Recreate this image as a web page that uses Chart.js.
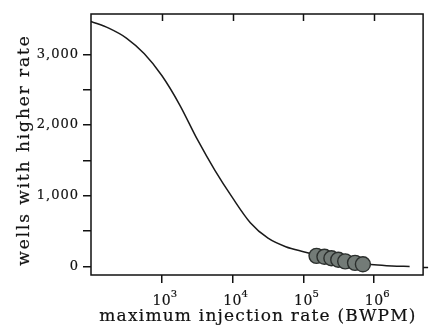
<!DOCTYPE html>
<html>
<head>
<meta charset="utf-8">
<script src="https://cdn.jsdelivr.net/npm/chart.js@4.4.1/dist/chart.umd.min.js"></script>
<style>
  html, body { margin: 0; padding: 0; background: #fff; }
  #wrap { width: 432px; height: 331px; }
</style>
</head>
<body>
<div id="wrap"><canvas id="injChart"></canvas></div>
<script>
// cumulative curve: wells with a max rate above x
var curveRate  = [100, 178, 316, 562, 1000, 1778, 3162, 5623, 10000, 17783, 31623, 56234, 100000, 177828, 316228, 562341, 1000000, 1778279, 3162278];
var curveWells = [3465, 3370, 3230, 3010, 2700, 2290, 1800, 1360, 970, 620, 400, 280, 210, 150, 100, 58, 25, 8, 0];

// highlighted wells (circles)
var wellRate  = [153109, 198153, 248313, 310456, 389045, 535797, 691831];
var wellCount = [151, 137, 116, 95, 73, 52, 31];

var xTicks = [1e3, 1e4, 1e5, 1e6];
var yTicks = [0, 500, 1000, 1500, 2000, 2500, 3000];

var xTitle = 'maximum injection rate (BWPM)';
var yTitle = 'wells with higher rate';

var serif = "'DejaVu Serif', serif";
var ink = '#111111';

function pts(xs, ys) {
  return xs.map(function(x, i) { return { x: x, y: ys[i] }; });
}

// text with a faint outline so it reads a bit heavier, like the scan
function heavyText(ctx, s, x, y) {
  ctx.lineWidth = 0.2;
  ctx.strokeText(s, x, y);
  ctx.fillText(s, x, y);
}

// frame box, inward ticks on top, all text labels
var framePlugin = {
  id: 'frame',
  afterDraw: function(chart) {
    var a = chart.chartArea, ctx = chart.ctx, xs = chart.scales.x, ys = chart.scales.y;
    ctx.save();
    ctx.strokeStyle = ink;
    ctx.lineWidth = 1.5;
    ctx.strokeRect(a.left, a.top, a.right - a.left, a.bottom - a.top);
    xTicks.forEach(function(v) {
      var px = Math.round(xs.getPixelForValue(v)) + 0.5;
      ctx.beginPath();
      ctx.moveTo(px, a.top);
      ctx.lineTo(px, a.top + 7);
      ctx.stroke();
    });
    var py = Math.round(ys.getPixelForValue(0)) + 0.5;
    ctx.beginPath();
    ctx.moveTo(a.right, py);
    ctx.lineTo(a.right + 5, py);
    ctx.stroke();

    ctx.fillStyle = ink;
    ctx.textBaseline = 'alphabetic';
    ctx.letterSpacing = '0.5px';
    xTicks.forEach(function(v) {
      var px = xs.getPixelForValue(v);
      ctx.font = '14px ' + serif;
      ctx.textAlign = 'center';
      heavyText(ctx, '10', px, a.bottom + 30);
      ctx.font = '10px ' + serif;
      ctx.textAlign = 'left';
      heavyText(ctx, String(Math.round(Math.log10(v))), px + 9, a.bottom + 22);
    });

    ctx.font = '13px ' + serif;
    ctx.textAlign = 'right';
    ctx.textBaseline = 'middle';
    ctx.letterSpacing = '1px';
    yTicks.forEach(function(v) {
      if (v % 1000 !== 0) return;
      heavyText(ctx, v.toLocaleString('en-US'), a.left - 12, ys.getPixelForValue(v));
    });

    ctx.font = '17px ' + serif;
    ctx.textAlign = 'center';
    ctx.letterSpacing = '1.2px';
    heavyText(ctx, xTitle, 258, 317);
    ctx.translate(25, 150);
    ctx.rotate(-Math.PI / 2);
    ctx.letterSpacing = '1.9px';
    heavyText(ctx, yTitle, 0, 0);
    ctx.restore();
  }
};

// tick marks come from the scales; labels are drawn by the plugin
function noLabel() { return ''; }

var ctx = document.getElementById('injChart').getContext('2d');
var chart = new Chart(ctx, {
  type: 'scatter',
  data: {
    datasets: [
      {
        label: 'wells',
        data: pts(wellRate, wellCount),
        pointRadius: 7.5,
        backgroundColor: '#737b77',
        borderColor: '#2b2f2d',
        borderWidth: 1.4
      },
      {
        label: 'curve',
        data: pts(curveRate, curveWells),
        showLine: true,
        cubicInterpolationMode: 'monotone',
        pointRadius: 0,
        borderColor: '#1a1a1a',
        borderWidth: 1.5
      }
    ]
  },
  options: {
    responsive: true,
    maintainAspectRatio: false,
    animation: false,
    layout: { padding: { top: 14, right: 1, left: 0, bottom: 0 } },
    plugins: {
      legend: { display: false },
      tooltip: { enabled: false }
    },
    scales: {
      x: {
        type: 'logarithmic',
        min: 100,
        max: 4.9e6,
        afterBuildTicks: function(scale) {
          scale.ticks = xTicks.map(function(v) { return { value: v }; });
        },
        afterFit: function(scale) { scale.height = 56; },
        border: { display: false },
        grid: { drawOnChartArea: false, drawTicks: true, tickLength: 8, color: ink, lineWidth: 1.5 },
        ticks: { display: true, callback: noLabel },
        title: { display: false }
      },
      y: {
        min: -120,
        max: 3570,
        afterBuildTicks: function(scale) {
          scale.ticks = yTicks.map(function(v) { return { value: v }; });
        },
        afterFit: function(scale) { scale.width = 91; },
        border: { display: false },
        grid: { drawOnChartArea: false, drawTicks: true, tickLength: 8, color: ink, lineWidth: 1.5 },
        ticks: { display: true, callback: noLabel },
        title: { display: false }
      }
    }
  },
  plugins: [framePlugin]
});
</script>
</body>
</html>
